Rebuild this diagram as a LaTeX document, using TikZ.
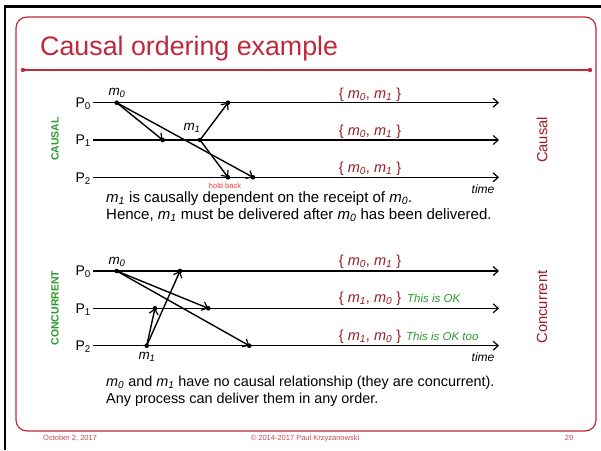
\documentclass[tikz,border=0pt]{standalone}
\usepackage{fontspec}
\setmainfont{Liberation Sans}
\usetikzlibrary{arrows.meta}
\definecolor{titlered}{HTML}{C0283C}
\definecolor{darkred}{HTML}{9A1C22}
\definecolor{okgreen}{HTML}{2A9A2A}
\definecolor{holdred}{HTML}{F03A3A}
\definecolor{footred}{HTML}{D04858}
\newcommand{\msub}[2]{\textit{#1}\textsubscript{\textit{#2}}}
\tikzset{
  tip/.tip={Straight Barb[length=5pt,width=9pt,line width=1.2pt]},
  proc/.style={line width=1.4pt,-tip},
  msg/.style={line width=1.4pt,-tip},
  evdot/.style={circle,fill=black,inner sep=0pt,minimum size=4.6pt},
  plabel/.style={anchor=base east,inner sep=0pt,font=\fontsize{14}{16}\selectfont},
  mlabel/.style={inner sep=0pt,font=\fontsize{13.5}{15}\selectfont},
  setlabel/.style={anchor=base,inner sep=0pt,text=darkred,font=\fontsize{14.5}{17}\selectfont},
  oklabel/.style={anchor=base west,inner sep=0pt,text=okgreen,font=\fontsize{11.5}{13}\selectfont\itshape},
  sidelabel/.style={rotate=90,inner sep=0pt,text=darkred,font=\fontsize{14.7}{17}\selectfont},
  kindlabel/.style={rotate=90,inner sep=0pt,text=okgreen,font=\fontsize{10.5}{12}\selectfont\bfseries},
  timelabel/.style={inner sep=0pt,font=\fontsize{12}{14}\selectfont\itshape},
  bodytext/.style={anchor=base west,inner sep=0pt,font=\fontsize{15}{17}\selectfont},
  bodytextb/.style={anchor=base west,inner sep=0pt,font=\fontsize{14.4}{17}\selectfont},
  footer/.style={anchor=base,inner sep=0pt,text=footred,font=\fontsize{7.5}{9}\selectfont},
}
\begin{document}
\begin{tikzpicture}[x=1pt,y=-1pt]
\useasboundingbox (0,0) rectangle (601,450);
\fill[white] (0,0) rectangle (601,450);
% slide edge
\draw[line width=2.5pt] (5,450) -- (5,6.5) -- (601,6.5);
% frame and title rule
\draw[titlered,line width=1.2pt,rounded corners=11pt] (16,17) rectangle (596,431);
\coordinate (ruleL) at (23,70);
\coordinate (ruleR) at (590,70);
\draw[titlered,line width=1.1pt] (ruleL) -- (ruleR);
\fill[titlered] (ruleL) circle (2.2) (ruleR) circle (2.2);
\node[anchor=base west,inner sep=0pt,text=titlered,font=\fontsize{26.8}{30}\selectfont] (title) at (40,55) {Causal ordering example};

% ---------------- causal ----------------
\foreach \i/\y in {0/102.7,1/140,2/177.3}{
  \coordinate (cs\i) at (93,\y);
  \coordinate (ce\i) at (499,\y);
  \draw[proc] (cs\i) -- (ce\i);
  \node[plabel] (cp\i) at (91,\y+4.8) {P\textsubscript{\i}};
}
\coordinate (cm0) at (116.7,102.7);
\coordinate (cr01) at (162.7,140);
\coordinate (cr02) at (253,177.3);
\coordinate (cm1) at (200,140);
\coordinate (cr10) at (228,102.7);
\coordinate (cr12) at (228,177.3);
\draw[msg] (cm0) -- (cr01);
\draw[msg] (cm0) -- (cr02);
\draw[msg] (cm1) -- (cr10);
\draw[msg] (cm1) -- (cr12);
\foreach \p in {cm0,cr01,cr02,cm1,cr10,cr12} \node[evdot] at (\p) {};
\node[mlabel] (cm0l) at (117,93) {\msub{m}{0}};
\node[mlabel] (cm1l) at (192,127.5) {\msub{m}{1}};
\node[inner sep=0pt,text=holdred,font=\fontsize{7.5}{9}\selectfont] (hold) at (225,186) {hold back};
\node[setlabel] (cset0) at (370,98) {\{ \msub{m}{0}, \msub{m}{1} \}};
\node[setlabel] (cset1) at (370,135.5) {\{ \msub{m}{0}, \msub{m}{1} \}};
\node[setlabel] (cset2) at (370,172.5) {\{ \msub{m}{0}, \msub{m}{1} \}};
\node[timelabel] (ctime) at (483,189) {time};
\node[sidelabel] (causal) at (542,140) {Causal};
\node[kindlabel] (causalk) at (55,139) {CAUSAL};
\node[bodytext] (ctext1) at (106,202.5) {\msub{m}{1} is causally dependent on the receipt of \msub{m}{0}.};
\node[bodytext] (ctext2) at (106,219.5) {Hence, \msub{m}{1} must be delivered after \msub{m}{0} has been delivered.};

% ---------------- concurrent ----------------
\foreach \i/\y in {0/271,1/308.3,2/345.7}{
  \coordinate (ns\i) at (93,\y);
  \coordinate (ne\i) at (499,\y);
  \draw[proc] (ns\i) -- (ne\i);
  \node[plabel] (np\i) at (91,\y+4.8) {P\textsubscript{\i}};
}
\coordinate (nm0) at (116.7,271);
\coordinate (nr01) at (208.3,308.3);
\coordinate (nr02) at (249.3,345.7);
\coordinate (nm1) at (146.7,345.7);
\coordinate (nr11) at (155,308.3);
\coordinate (nr10) at (180,271);
\draw[msg] (nm0) -- (nr01);
\draw[msg] (nm0) -- (nr02);
\draw[msg] (nm1) -- (nr11);
\draw[msg] (nm1) -- (nr10);
\foreach \p in {nm0,nr01,nr02,nm1,nr11,nr10} \node[evdot] at (\p) {};
\node[mlabel] (nm0l) at (117,261.5) {\msub{m}{0}};
\node[mlabel] (nm1l) at (147,357) {\msub{m}{1}};
\node[setlabel] (nset0) at (370,265.5) {\{ \msub{m}{0}, \msub{m}{1} \}};
\node[setlabel] (nset1) at (370,302.8) {\{ \msub{m}{1}, \msub{m}{0} \}};
\node[setlabel] (nset2) at (370,340.2) {\{ \msub{m}{1}, \msub{m}{0} \}};
\node[oklabel] (ok1) at (407,302.8) {This is OK};
\node[oklabel] (ok2) at (406,340.2) {This is OK too};
\node[timelabel] (ntime) at (483,357.5) {time};
\node[sidelabel] (concurrent) at (542,307) {Concurrent};
\node[kindlabel] (concurrentk) at (55,308) {CONCURRENT};
\node[bodytextb] (ntext1) at (106,386) {\msub{m}{0} and \msub{m}{1} have no causal relationship (they are concurrent).};
\node[bodytextb] (ntext2) at (106,403) {Any process can deliver them in any order.};

% footer
\node[footer,anchor=base west] (fdate) at (43,440) {October 2, 2017};
\node[footer] (fcopy) at (305,440) {© 2014-2017 Paul Krzyzanowski};
\node[footer] (fpage) at (569,440) {29};
\end{tikzpicture}
\end{document}
